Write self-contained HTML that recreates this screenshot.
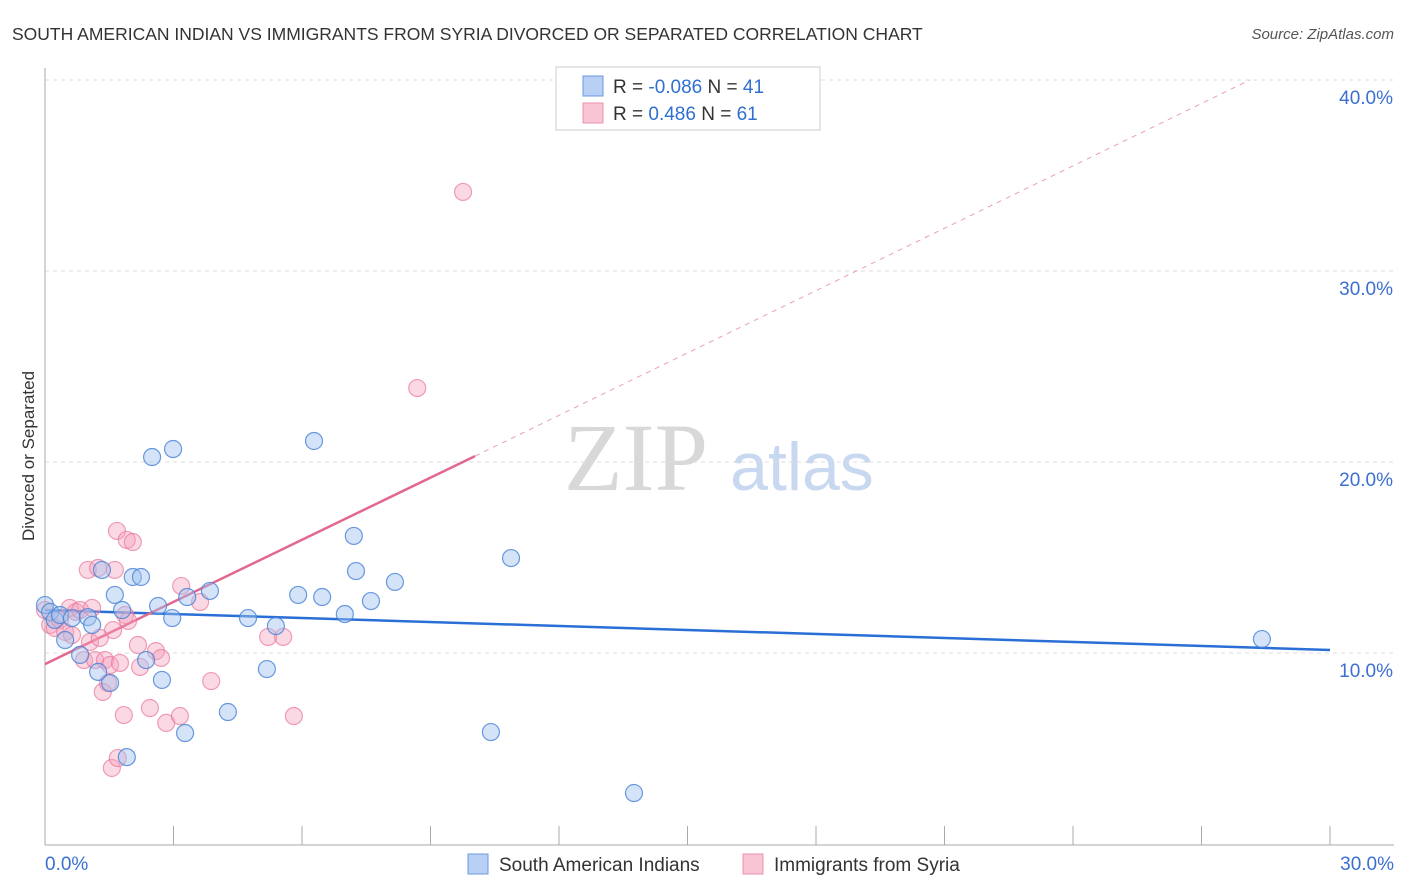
<!DOCTYPE html>
<html><head><meta charset="utf-8"><style>
body{margin:0;background:#fff;font-family:"Liberation Sans",sans-serif}
svg{display:block}
</style></head><body>
<svg id="chart" width="1406" height="892">
<text x="12" y="40" font-size="17.5" fill="#333">SOUTH AMERICAN INDIAN VS IMMIGRANTS FROM SYRIA DIVORCED OR SEPARATED CORRELATION CHART</text>
<text x="1394" y="39" font-size="15" fill="#555" text-anchor="end" font-style="italic">Source: ZipAtlas.com</text>
<text x="34" y="456" font-size="17" fill="#333" text-anchor="middle" transform="rotate(-90 34 456)">Divorced or Separated</text>
<g><text x="636" y="490" font-size="96" fill="#d8d8d8" text-anchor="middle" font-family="Liberation Serif,serif">ZIP</text><text x="802" y="490" font-size="68" fill="#c8d8f0" text-anchor="middle">atlas</text></g>
<g id="grid"></g><g id="axes"></g><g id="lines"></g><g id="pts"></g>
<g>
<rect x="556" y="67" width="264" height="63" fill="#fff" stroke="#ccc"/>
<rect x="583" y="76" width="20" height="20" fill="#b8d0f4" stroke="#6a9ae0"/>
<rect x="583" y="103" width="20" height="20" fill="#f9c4d4" stroke="#ec93ae"/>
<text x="613" y="93" font-size="19" fill="#333">R = <tspan fill="#2f6fd0">-0.086</tspan>   N = <tspan fill="#2f6fd0">41</tspan></text>
<text x="613" y="120" font-size="19" fill="#333">R =   <tspan fill="#2f6fd0">0.486</tspan>   N = <tspan fill="#2f6fd0">61</tspan></text>
</g>
<g>
<rect x="468" y="854" width="20" height="20" fill="#b8d0f4" stroke="#6a9ae0"/>
<text x="499" y="871" font-size="19" fill="#333">South American Indians</text>
<rect x="743" y="854" width="20" height="20" fill="#f9c4d4" stroke="#ec93ae"/>
<text x="774" y="871" font-size="19" fill="#333">Immigrants from Syria</text>
</g>
</svg>
<script>
const blueX=[0,0.12,0.23,0.35,0.47,0.63,0.82,1.00,1.10,1.24,1.33,1.52,1.63,1.80,1.91,2.05,2.24,2.36,2.50,2.64,2.73,2.97,2.99,3.27,3.32,3.85,4.27,4.74,5.18,5.39,5.91,6.28,6.47,7.00,7.21,7.26,7.61,8.17,10.41,10.88,13.75,28.41];
const blueY=[12.51,12.15,11.73,11.99,10.68,11.83,9.90,11.88,11.47,9.01,14.35,8.43,13.04,12.25,4.55,13.98,13.98,9.63,20.26,12.46,8.59,11.83,20.68,5.81,12.93,13.25,6.91,11.83,9.16,11.41,13.04,21.10,12.93,12.04,16.13,14.29,12.72,13.72,5.86,14.97,2.67,10.73];
const pinkX=[0,0.12,0.23,0.35,0.47,0.58,0.63,0.72,0.82,0.91,1.00,1.05,1.10,1.17,1.24,1.28,1.35,1.40,1.47,1.52,1.56,1.59,1.63,1.68,1.70,1.75,1.84,1.87,1.91,1.94,2.05,2.17,2.22,2.45,2.59,2.71,2.83,3.15,3.18,3.62,3.88,5.21,5.56,5.81,8.69,9.76];
const pinkY=[12.25,11.47,11.31,11.73,11.10,12.36,10.94,12.15,12.25,9.63,14.35,10.58,12.36,9.63,14.45,10.79,7.96,9.63,8.43,9.37,3.98,11.20,14.35,16.39,4.50,9.48,6.75,11.99,15.92,11.68,15.81,10.42,9.27,7.12,10.10,9.74,6.34,6.70,13.51,12.67,8.53,10.84,10.84,6.70,23.87,34.14];
const yTicks=[10,20,30,40];
const xTickLabels=["0.0%","30.0%"];
const blueLine=[[0,12.25],[30,10.16]];
const pinkSolid=[[0,9.42],[10.04,20.31]];
const pinkDash=[[10.04,20.31],[28.13,40.0]];
const ns="http://www.w3.org/2000/svg";
const X=v=>45+v*1285/30, Y=v=>844-v*19.1;
function mk(t,a,p){const e=document.createElementNS(ns,t);for(const k in a)e.setAttribute(k,a[k]);document.getElementById(p).appendChild(e);return e;}
yTicks.forEach(t=>{
 const g=mk('line',{x1:45,x2:1394,y1:Y(t),y2:Y(t),stroke:'#ddd','stroke-dasharray':'4,4'},'grid');
 
 
 const l=mk('text',{x:1393,y:Y(t)+24,'font-size':19,fill:'#3b6fd0','text-anchor':'end'},'axes');
 l.textContent=t.toFixed(1)+'%';
 
 
});
const ya=mk('line',{x1:45,x2:45,y1:68,y2:845,stroke:'#aaa'},'axes');


const xa=mk('line',{x1:45,x2:1394,y1:845,y2:845,stroke:'#aaa'},'axes');


for(let i=1;i<=10;i++){const t=mk('line',{x1:X(i*3),x2:X(i*3),y1:826,y2:845,stroke:'#aaa'},'axes');
 
 }
const xl0=mk('text',{x:45,y:870,'font-size':19,fill:'#3b6fd0'},'axes');xl0.textContent=xTickLabels[0];


const xl1=mk('text',{x:1394,y:870,'font-size':19,fill:'#3b6fd0','text-anchor':'end'},'axes');xl1.textContent=xTickLabels[1];


function ln(d,c,w,dash,name){const e=mk('line',{x1:X(d[0][0]),y1:Y(d[0][1]),x2:X(d[1][0]),y2:Y(d[1][1]),stroke:c,'stroke-width':w},'lines');if(dash)e.setAttribute('stroke-dasharray',dash);
 
 }
pinkX.forEach((x,i)=>{const c=mk('circle',{cx:X(x),cy:Y(pinkY[i]),r:8.5,fill:'rgba(244,160,188,0.4)',stroke:'rgba(232,120,155,0.7)','stroke-width':1.2},'pts');
 
 });
blueX.forEach((x,i)=>{const c=mk('circle',{cx:X(x),cy:Y(blueY[i]),r:8.5,fill:'rgba(160,192,238,0.45)',stroke:'rgba(70,130,215,0.8)','stroke-width':1.2},'pts');
 
 });
ln(blueLine,'#2a6fd6',2.5,null,'blue-trend-line');
ln(pinkSolid,'#e2688f',2.5,null,'pink-trend-line');
ln(pinkDash,'#e8a0b5',1,'5,5','pink-trend-extension');
</script>
</body></html>
